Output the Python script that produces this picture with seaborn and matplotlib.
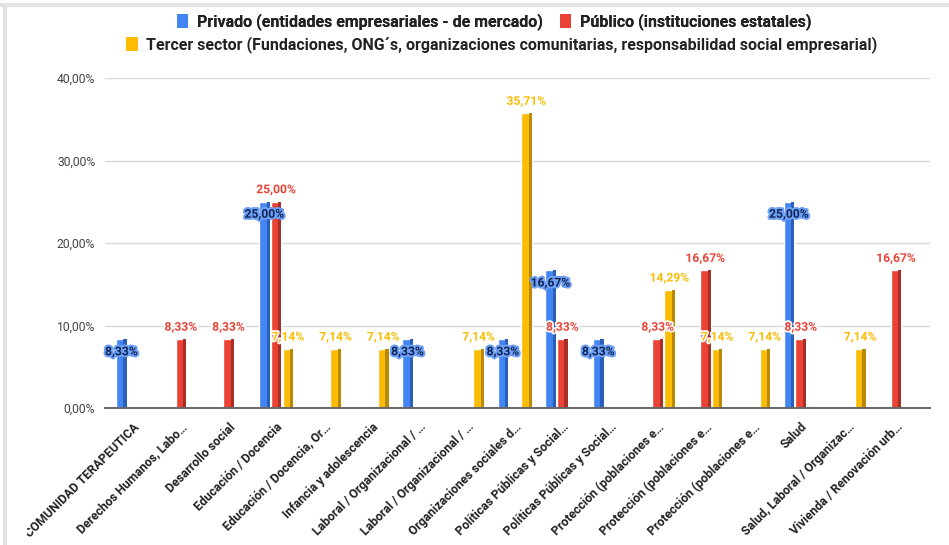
import numpy as np
import pandas as pd
import matplotlib
matplotlib.use("Agg")
import matplotlib.pyplot as plt
import matplotlib.patheffects as pe
from matplotlib.patches import Rectangle
from matplotlib.lines import Line2D
from matplotlib.transforms import Bbox
import seaborn as sns

# ---------------- data ----------------
categories = [
    "COMUNIDAD TERAPEUTICA",
    "Derechos Humanos, Labo\u2026",
    "Desarrollo social",
    "Educación / Docencia",
    "Educación / Docencia, Or\u2026",
    "Infancia y adolescencia",
    "Laboral / Organizacional / \u2026",
    "Laboral / Organizacional / \u2026 ",
    "Organizaciones sociales d\u2026",
    "Políticas Públicas y Social\u2026",
    "Políticas Públicas y Social\u2026 ",
    "Protección (poblaciones e\u2026",
    "Protección (poblaciones e\u2026 ",
    "Protección (poblaciones e\u2026  ",
    "Salud",
    "Salud, Laboral / Organizac\u2026",
    "Vivienda / Renovación urb\u2026",
]
series = [
    "Privado (entidades empresariales - de mercado)",
    "Público (instituciones estatales)",
    "Tercer sector (Fundaciones, ONG\u00b4s, organizaciones comunitarias, responsabilidad social empresarial)",
]
privado = [8.33, None, None, 25.00, None, None, 8.33, None, 8.33, 16.67, 8.33, None, None, None, 25.00, None, None]
publico = [None, 8.33, 8.33, 25.00, None, None, None, None, None, 8.33, None, 8.33, 16.67, None, 8.33, None, 16.67]
tercer = [None, None, None, 7.14, 7.14, 7.14, None, 7.14, 35.71, None, None, 14.29, 7.14, 7.14, None, 7.14, None]
y_ticks = [0, 10, 20, 30, 40]

colors = ["#4285F4", "#EA4335", "#FBBC04"]
side_colors = ["#2b5fb8", "#a82f26", "#b98a00"]

rows = []
for s, vals in zip(series, [privado, publico, tercer]):
    for c, v in zip(categories, vals):
        if v is not None:
            rows.append({"cat": c, "val": v, "serie": s})
df = pd.DataFrame(rows)

def fmt(v):
    return f"{v:.2f}".replace(".", ",") + "%"

# ---------------- figure ----------------
sns.set_style("white")
plt.rcParams["font.family"] = ["Roboto", "DejaVu Sans"]

W, H = 949, 545
fig = plt.figure(figsize=(W / 100, H / 100), dpi=100)
ax = fig.add_axes([105 / W, 1 - 408 / H, (930 - 105) / W, (408 - 78) / H])

sns.barplot(data=df, x="cat", y="val", hue="serie", order=categories, hue_order=series,
            palette=colors, saturation=1, width=0.74, gap=0.1, dodge=True, ax=ax,
            legend=False, zorder=3)

ax.set_ylim(0, 40)
ax.set_xlim(-0.59, 16.71)
ax.set_yticks(y_ticks)
ax.set_yticklabels([f"{t:.2f}".replace(".", ",") + "%" for t in y_ticks],
                   fontsize=8.7, color="#444444")
ax.tick_params(axis="y", length=0, pad=7)
ax.tick_params(axis="x", length=0, pad=9)
ax.grid(axis="y", color="#d9d9d9", linewidth=1, zorder=0)
ax.set_axisbelow(True)
for sp in ["top", "right", "left"]:
    ax.spines[sp].set_visible(False)
ax.spines["bottom"].set_color("#666666")
ax.spines["bottom"].set_linewidth(1.4)
ax.spines["bottom"].set_zorder(5)
ax.set_xlabel("")
ax.set_ylabel("")

ax.set_xticks(range(len(categories)))
xlabels = ax.set_xticklabels([c.strip() for c in categories], rotation=45, ha="right",
                             va="top", rotation_mode="anchor", fontsize=8.8,
                             fontweight="bold", color="#222222")
# the first label is cut by the card edge in the original
clip = Bbox.from_extents(27, 0, W, H)
xlabels[0].set_clip_box(clip)
xlabels[0].set_clip_on(True)

# pseudo 3D side faces derived from drawn bars
for ci, cont in enumerate(ax.containers):
    for p in cont.patches:
        x, w, h = p.get_x(), p.get_width(), p.get_height()
        if np.isnan(h) or h == 0:
            continue
        ax.add_patch(Rectangle((x + w * 0.7, 0), w * 0.3, h, facecolor=side_colors[ci],
                               edgecolor="none", zorder=4))

# value labels
for ci, cont in enumerate(ax.containers):
    vals = [p.get_height() for p in cont.patches]
    labels = [fmt(v) if not np.isnan(v) else "" for v in vals]
    if ci == 0:
        anns = ax.bar_label(cont, labels=labels, padding=-9, fontsize=8.7,
                            fontweight="bold", color="#0d2452", zorder=8)
        for a in anns:
            a.set_va("center")
            a.set_path_effects([pe.withStroke(linewidth=3, foreground="#6fa0f7")])
    else:
        anns = ax.bar_label(cont, labels=labels, padding=4, fontsize=8.7,
                            fontweight="bold", color=colors[ci], zorder=8)
        for a in anns:
            a.set_path_effects([pe.withStroke(linewidth=2.5, foreground="white")])

# legend (two rows)
handles = [Rectangle((0, 0), 1, 1, facecolor=c, edgecolor="none") for c in colors]
leg1 = fig.legend(handles[:2], series[:2], loc="center", bbox_to_anchor=(494 / W, 1 - 22 / H),
                  ncol=2, frameon=False, handlelength=0.7, handleheight=0.95,
                  handletextpad=0.55, columnspacing=1.1,
                  prop={"weight": "bold", "size": 11.5}, labelcolor="#222222")
fig.legend(handles[2:], series[2:], loc="center", bbox_to_anchor=(502 / W, 1 - 45 / H),
           ncol=1, frameon=False, handlelength=0.7, handleheight=0.95,
           handletextpad=0.55, prop={"weight": "bold", "size": 11.5}, labelcolor="#222222")
fig.add_artist(leg1)

# frame lines of the card
fig.add_artist(Line2D([0, 1], [1 - 5 / H, 1 - 5 / H], transform=fig.transFigure,
                      color="#e3e3e3", linewidth=3))
fig.add_artist(Line2D([5 / W, 5 / W], [0, 1 - 5 / H], transform=fig.transFigure,
                      color="#e3e3e3", linewidth=3))

fig.savefig("out.png", dpi=100)
